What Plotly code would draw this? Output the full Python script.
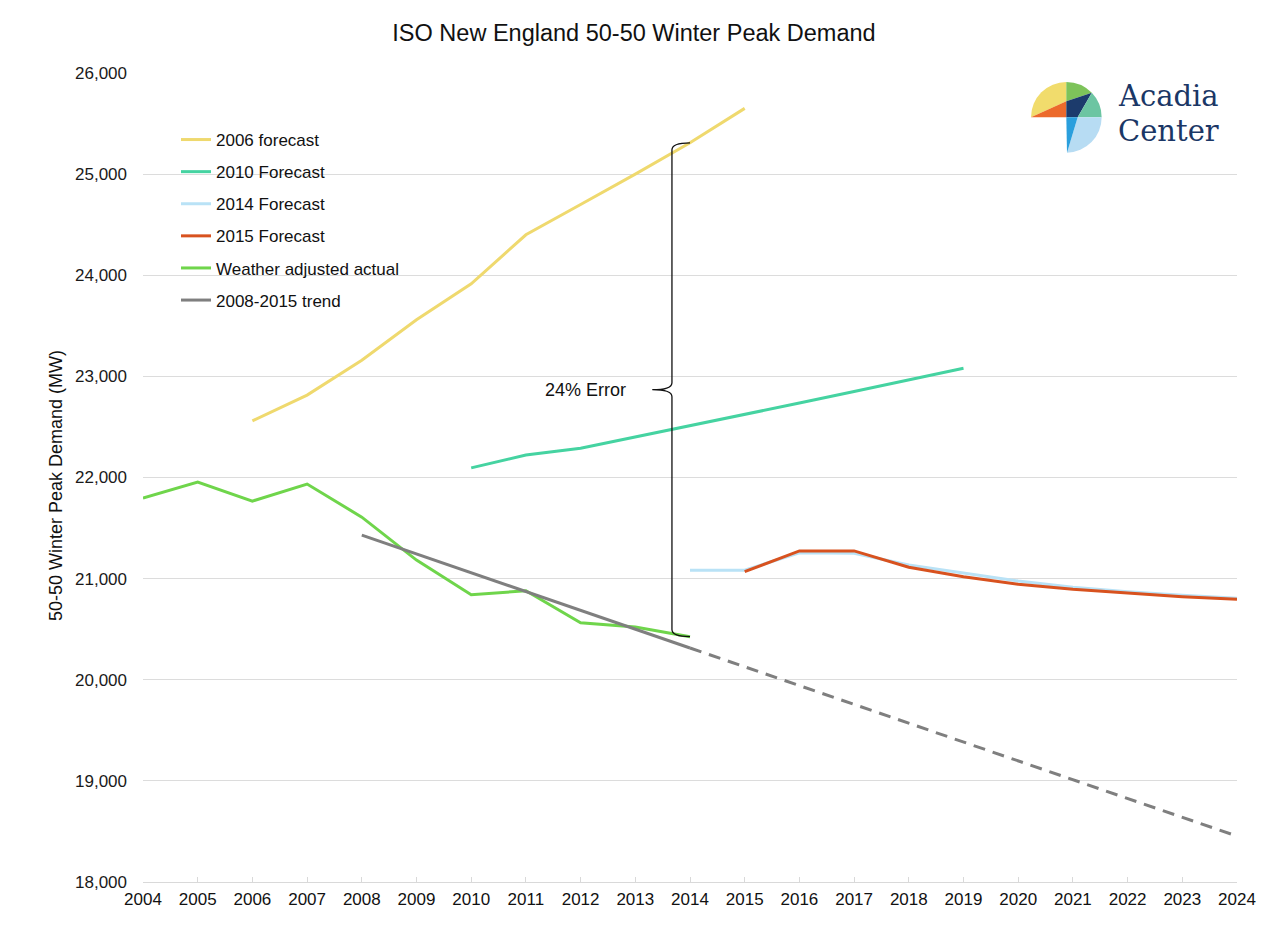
import base64
import plotly.graph_objects as go

# ---------------- data ----------------
years_all = list(range(2004, 2025))

years_2006f = list(range(2006, 2016))
forecast_2006 = [22560, 22815, 23160, 23560, 23915, 24400, 24700, 25000, 25310, 25650]

years_2010f = list(range(2010, 2020))
forecast_2010 = [22095, 22223, 22290, 22400, 22512, 22624, 22736, 22850, 22965, 23080]

years_2014f = list(range(2014, 2025))
forecast_2014 = [21084, 21084, 21256, 21250, 21135, 21053, 20977, 20915, 20871, 20835, 20805]

years_2015f = list(range(2015, 2025))
forecast_2015 = [21069, 21274, 21274, 21112, 21019, 20944, 20894, 20855, 20822, 20796]

years_actual = list(range(2004, 2015))
actual = [21796, 21954, 21767, 21935, 21608, 21183, 20840, 20880, 20564, 20522, 20426]

years_trend = list(range(2008, 2025))
trend = [21430, 21244, 21058, 20872, 20686, 20500, 20314, 20128, 19942, 19756,
         19570, 19384, 19198, 19012, 18826, 18640, 18454]
trend_solid_end = 2014

y_ticks = [18000, 19000, 20000, 21000, 22000, 23000, 24000, 25000, 26000]
y_tick_labels = [f"{v:,}" for v in y_ticks]

# ---------------- layout geometry helpers ----------------
W, H = 1268, 946
L, R, T, B = 143, 31, 73, 64
PW, PH = W - L - R, H - T - B


def paper_x(px):
    return (px - L) / PW


def paper_y(py):
    return (H - B - py) / PH


FONT = "Liberation Sans, Arial, sans-serif"
C_2006 = "#efd96e"
C_2010 = "#45d3a1"
C_2014 = "#b9e2f6"
C_2015 = "#d8521f"
C_ACT = "#6fd54b"
C_TREND = "#7f7f7f"

fig = go.Figure()


def add_line(x, y, name, color, group, dash=None, showlegend=True):
    fig.add_trace(go.Scatter(
        x=x, y=y, name=name, mode="lines",
        line=dict(color=color, width=3, dash=dash),
        legendgroup=group, showlegend=showlegend,
    ))


add_line(years_2006f, forecast_2006, "2006 forecast", C_2006, "g1")
add_line(years_2010f, forecast_2010, "2010 Forecast", C_2010, "g2")
add_line(years_2014f, forecast_2014, "2014 Forecast", C_2014, "g3")
add_line(years_2015f, forecast_2015, "2015 Forecast", C_2015, "g4")
add_line(years_actual, actual, "Weather adjusted actual", C_ACT, "g5")

idx = years_trend.index(trend_solid_end)
add_line(years_trend[:idx + 1], trend[:idx + 1], "2008-2015 trend", C_TREND, "g6")
add_line(years_trend[idx:], trend[idx:], "2008-2015 trend (projected)", C_TREND, "g6",
         dash="12px,8px", showlegend=False)

# ---------------- bracket "24% Error" ----------------
x_end = 2014
top = forecast_2006[years_2006f.index(x_end)]
bot = actual[years_actual.index(x_end)]
mid = (top + bot) / 2
xb = x_end - 0.33
tip = xb - 0.36
d = 70
path = (f"M {x_end},{top} Q {xb},{top} {xb},{top - d} "
        f"L {xb},{mid + d} Q {xb},{mid} {tip},{mid} "
        f"Q {xb},{mid} {xb},{mid - d} "
        f"L {xb},{bot + d} Q {xb},{bot} {x_end},{bot}")
fig.add_shape(type="path", path=path, xref="x", yref="y",
              line=dict(color="#111111", width=1.3))
fig.add_annotation(x=tip - 0.45, y=mid, xref="x", yref="y", text="24% Error",
                   showarrow=False, xanchor="right", yanchor="middle",
                   font=dict(family=FONT, size=18, color="#111111"))

# ---------------- logo ----------------
svg = """<svg xmlns='http://www.w3.org/2000/svg' viewBox='0 0 255 255' width='255' height='255'>
<path d='M18,118 A106,106 0 0 1 124,12 L124,70 Z' fill='#f1dc6c'/>
<path d='M18,118 L124,70 L124,118 Z' fill='#ec6a2b'/>
<path d='M124,12 A106,106 0 0 1 200.5,44.6 L124,70 Z' fill='#7dc35a'/>
<path d='M124,70 L200.5,44.6 L158,118 L124,118 Z' fill='#1c3b6c'/>
<path d='M200.5,44.6 A106,106 0 0 1 230,118 L158,118 Z' fill='#6cc5a2'/>
<path d='M158,118 L230,118 A106,106 0 0 1 126,224 Z' fill='#b7dcf3'/>
<path d='M124,118 L158,118 L126,224 Z' fill='#2a9fdd'/>
</svg>"""
src = "data:image/svg+xml;base64," + base64.b64encode(svg.encode()).decode()
fig.add_layout_image(dict(source=src, xref="paper", yref="paper",
                          x=paper_x(1025), y=paper_y(78),
                          sizex=85 / PW, sizey=85 / PH,
                          xanchor="left", yanchor="top", sizing="stretch",
                          layer="above"))
LOGO_FONT = "DejaVu Serif, Liberation Serif, serif"
for txt, py in [("Acadia", 96), ("Center", 131)]:
    fig.add_annotation(x=paper_x(1116), y=paper_y(py), xref="paper", yref="paper",
                       text=txt, showarrow=False, xanchor="left", yanchor="middle",
                       font=dict(family=LOGO_FONT, size=29, color="#1b3766"))

# ---------------- y axis title ----------------
fig.add_annotation(x=paper_x(56), y=paper_y(486), xref="paper", yref="paper",
                   text="50-50 Winter Peak Demand (MW)", textangle=-90,
                   showarrow=False, xanchor="center", yanchor="middle",
                   font=dict(family=FONT, size=18, color="#111111"))

fig.update_layout(
    width=W, height=H,
    margin=dict(l=L, r=R, t=T, b=B, pad=0),
    paper_bgcolor="white", plot_bgcolor="white",
    title=dict(text="ISO New England 50-50 Winter Peak Demand",
               x=0.5, xref="container", xanchor="center",
               y=1 - 33 / H, yref="container", yanchor="middle",
               font=dict(family=FONT, size=23.5, color="#111111")),
    xaxis=dict(range=[2004, 2024], tickmode="array", tickvals=years_all,
               ticktext=[str(y) for y in years_all],
               showgrid=False, zeroline=False, showline=True,
               linecolor="#d9d9d9", linewidth=1,
               ticks="inside", ticklen=5, tickcolor="#d9d9d9",
               tickfont=dict(family=FONT, size=17, color="#111111"),
               ticklabelstandoff=2, fixedrange=True),
    yaxis=dict(range=[18000, 26000], tickmode="array", tickvals=y_ticks,
               ticktext=y_tick_labels, showgrid=True, gridcolor="#dcdcdc",
               gridwidth=1, zeroline=False, showline=False, ticks="",
               tickfont=dict(family=FONT, size=17, color="#1a1a1a"),
               ticklabelstandoff=15, fixedrange=True),
    legend=dict(x=paper_x(176), y=paper_y(122), xanchor="left", yanchor="top",
                bgcolor="rgba(255,255,255,0)", borderwidth=0,
                font=dict(family=FONT, size=17, color="#111111"),
                tracegroupgap=7, itemwidth=30),
    showlegend=True,
)

fig.write_html("out.html")
